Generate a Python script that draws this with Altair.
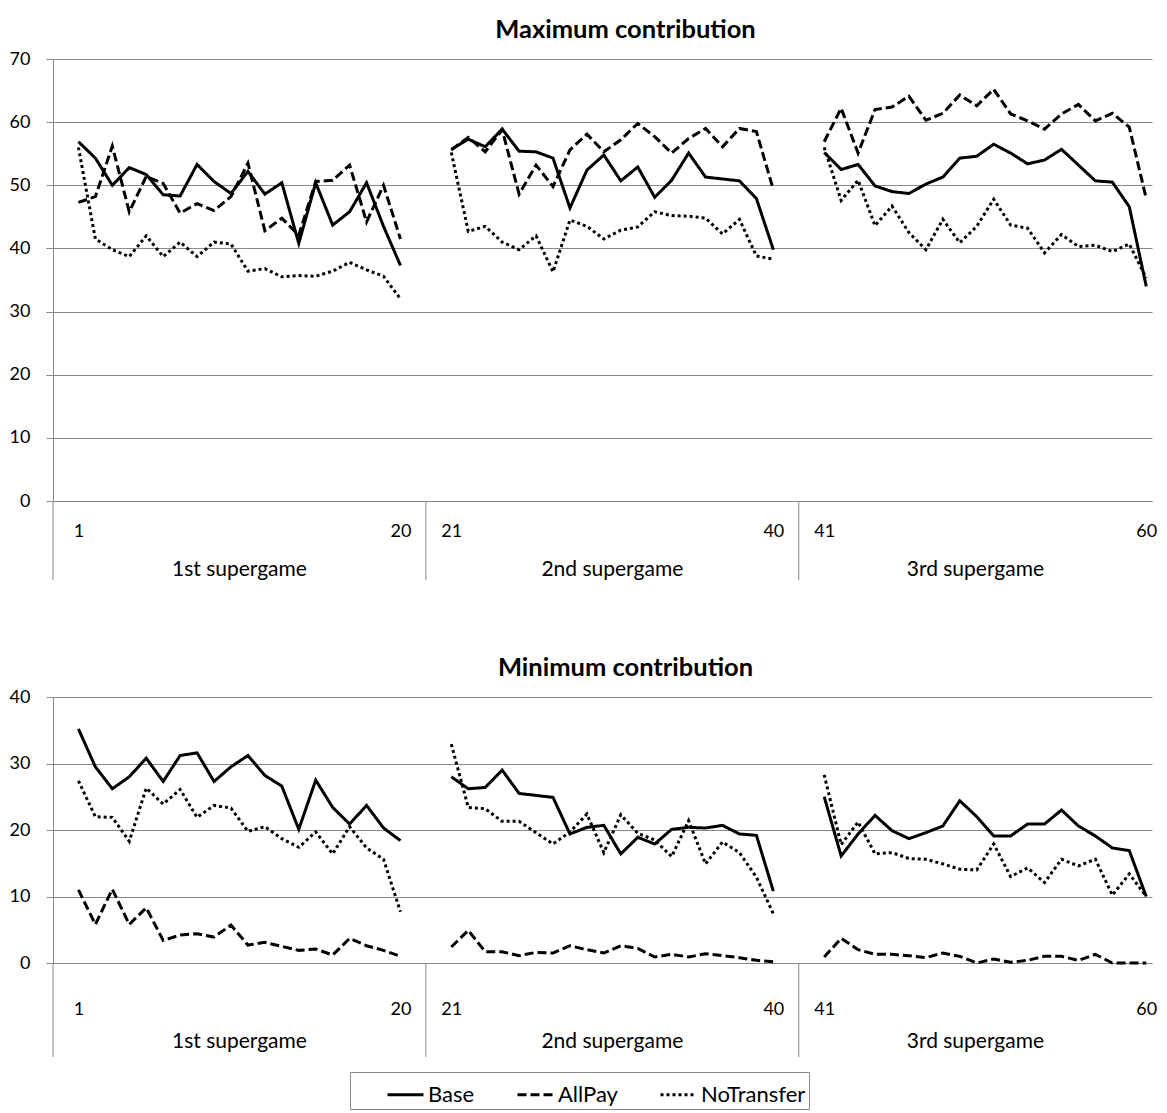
import altair as alt
import pandas as pd

FONT = "Lato"

periods = list(range(1, 61))
supergames = ["1st supergame", "2nd supergame", "3rd supergame"]
series = ["Base", "AllPay", "NoTransfer"]
tick_periods = [1, 20, 21, 40, 41, 60]

max_base = [56.9, 54.3, 50.0, 52.8, 51.7, 48.5, 48.3, 53.3, 50.6, 48.7, 52.2, 48.6, 50.4, 40.8, 50.4, 43.7, 45.8, 50.4, 43.5, 37.3,
            55.7, 57.3, 56.1, 58.9, 55.4, 55.3, 54.3, 46.4, 52.4, 54.8, 50.7, 52.9, 48.1, 50.8, 55.1, 51.3, 51.0, 50.7, 47.9, 39.8,
            55.2, 52.5, 53.3, 49.9, 49.0, 48.7, 50.2, 51.3, 54.3, 54.6, 56.5, 55.1, 53.4, 54.0, 55.7, 53.2, 50.7, 50.5, 46.6, 34.0]
max_allpay = [47.3, 48.2, 56.2, 45.8, 51.4, 50.3, 45.6, 47.1, 46.0, 48.2, 53.5, 42.8, 44.8, 42.1, 50.6, 50.8, 53.2, 44.2, 50.0, 41.5,
              55.6, 57.6, 55.3, 58.8, 48.6, 53.2, 49.8, 55.6, 58.1, 55.3, 57.2, 59.8, 57.7, 55.1, 57.4, 59.0, 56.1, 59.0, 58.5, 49.3,
              56.9, 62.2, 55.1, 62.0, 62.4, 64.1, 60.3, 61.4, 64.3, 62.6, 65.2, 61.3, 60.2, 58.9, 61.3, 62.8, 60.2, 61.4, 59.2, 47.9]
max_notransfer = [56.0, 41.5, 39.8, 38.7, 42.0, 38.7, 41.0, 38.7, 41.0, 40.7, 36.4, 36.8, 35.5, 35.7, 35.6, 36.4, 37.8, 36.6, 35.6, 32.0,
                  55.2, 42.7, 43.5, 41.0, 39.8, 42.0, 36.3, 44.5, 43.5, 41.5, 42.9, 43.4, 45.8, 45.2, 45.1, 44.8, 42.3, 44.6, 38.8, 38.3,
                  56.0, 47.6, 50.8, 43.6, 46.7, 42.5, 39.8, 44.6, 40.9, 43.5, 47.8, 43.7, 43.2, 39.3, 42.2, 40.3, 40.5, 39.5, 40.7, 35.3]

min_base = [35.2, 29.5, 26.2, 28.0, 30.8, 27.3, 31.2, 31.6, 27.3, 29.5, 31.2, 28.2, 26.6, 20.1, 27.5, 23.4, 20.9, 23.7, 20.3, 18.4,
            28.0, 26.2, 26.4, 29.0, 25.5, 25.2, 24.9, 19.4, 20.4, 20.7, 16.4, 18.9, 17.9, 20.1, 20.4, 20.3, 20.7, 19.4, 19.2, 10.8,
            25.0, 16.1, 19.4, 22.2, 19.9, 18.7, 19.6, 20.6, 24.4, 22.0, 19.1, 19.1, 20.9, 20.9, 23.0, 20.6, 19.1, 17.3, 16.9, 10.0]
min_allpay = [11.0, 5.8, 11.1, 5.8, 8.3, 3.4, 4.2, 4.4, 3.9, 5.7, 2.7, 3.1, 2.5, 1.9, 2.1, 1.2, 3.7, 2.6, 1.9, 1.0,
              2.4, 4.9, 1.7, 1.7, 1.1, 1.6, 1.5, 2.6, 2.0, 1.5, 2.6, 2.2, 0.9, 1.3, 0.9, 1.4, 1.1, 0.8, 0.4, 0.2,
              0.9, 3.7, 2.0, 1.3, 1.3, 1.1, 0.8, 1.5, 1.0, 0.0, 0.6, 0.1, 0.4, 1.0, 1.0, 0.4, 1.3, 0.0, 0.0, 0.0]
min_notransfer = [27.4, 22.0, 21.9, 18.3, 26.3, 23.9, 26.1, 21.9, 23.7, 23.3, 19.8, 20.5, 18.7, 17.4, 19.7, 16.4, 20.5, 17.3, 15.6, 7.7,
                  32.9, 23.4, 23.2, 21.3, 21.3, 19.6, 17.9, 19.7, 22.4, 16.6, 22.3, 19.5, 18.5, 16.0, 21.4, 14.9, 18.2, 16.6, 12.9, 7.4,
                  28.3, 17.8, 21.2, 16.4, 16.6, 15.7, 15.6, 14.9, 14.1, 14.0, 17.9, 13.0, 14.3, 12.1, 15.6, 14.6, 15.6, 10.2, 13.4, 10.0]

GRAY = "#8a8a8a"
SLOTS = 22          # 20 periods plus one empty slot each side per supergame
X_END = 64.34       # visible end of the category axis (last slot is cut by the page edge)
PLOT_W = 1099


def slot_of(p):
    g = (p - 1) // 20
    return g * SLOTS + (p - 1) % 20 + 1


tick_slots = [slot_of(p) for p in tick_periods]
label_expr = "".join(f"datum.value == {s} ? '{p}' : " for s, p in zip(tick_slots, tick_periods)) + "''"

xscale = alt.Scale(domain=[-0.5, X_END], nice=False, zero=False)

bounds = [g * SLOTS - 0.5 for g in range(len(supergames))]
centers = [(b + min(b + SLOTS, X_END)) / 2 for b in bounds]


def panel(b, a, n, ymax, height, title, lab_pad, grp_off, div_len):
    rows = []
    for name, vals in zip(series, [b, a, n]):
        for i, v in enumerate(vals):
            p = periods[i]
            rows.append({"period": p, "slot": slot_of(p), "supergame": supergames[(p - 1) // 20],
                         "series": name, "value": v})
    df = pd.DataFrame(rows)
    div_df = pd.DataFrame({"b": bounds})
    grp_df = pd.DataFrame({"c": centers, "supergame": supergames})

    lines = alt.Chart(df).mark_line(color="black", strokeWidth=3).encode(
        x=alt.X("slot:Q", scale=xscale,
                axis=alt.Axis(values=tick_slots, labelExpr=label_expr, ticks=False, grid=False,
                              domainColor=GRAY, labelPadding=lab_pad, labelFontSize=18,
                              labelFont=FONT, labelColor="black", labelFlush=False,
                              labelOverlap=False, title=None)),
        y=alt.Y("value:Q", scale=alt.Scale(domain=[0, ymax], nice=False, zero=True),
                axis=alt.Axis(values=list(range(0, ymax + 1, 10)), grid=True, gridColor=GRAY,
                              domainColor=GRAY, tickColor=GRAY, tickSize=7, labelPadding=16,
                              labelFontSize=18, labelFont=FONT, labelColor="black", title=None)),
        strokeDash=alt.StrokeDash("series:N", scale=alt.Scale(domain=series, range=[[1, 0], [9, 4], [3, 3]]),
                                  legend=alt.Legend(title=None)),
        detail="supergame:N",
    )
    rules = alt.Chart(div_df).mark_rule(color=GRAY, strokeWidth=1).encode(
        x=alt.X("b:Q", scale=xscale), y=alt.value(height), y2=alt.value(height + div_len))
    texts = alt.Chart(grp_df).mark_text(fontSize=21, font=FONT, baseline="middle", color="black").encode(
        x=alt.X("c:Q", scale=xscale), y=alt.value(height + grp_off), text="supergame:N")
    return alt.layer(rules, lines, texts).properties(
        width=PLOT_W, height=height,
        title=alt.TitleParams(title, fontSize=25.5, fontWeight="bold", font=FONT, anchor="middle",
                              offset=7, dx=23))


top = panel(max_base, max_allpay, max_notransfer, 70, 442, "Maximum contribution", 21, 69, 79)
bottom = panel(min_base, min_allpay, min_notransfer, 40, 266, "Minimum contribution", 37, 79, 94)

chart = alt.vconcat(top, bottom, spacing=74).properties(
    padding={"left": 1, "top": 9, "right": 0, "bottom": 0}
).configure_view(strokeWidth=0).configure_legend(
    orient="none", legendX=297, legendY=1013, direction="horizontal",
    strokeColor=GRAY, padding=3, symbolType="stroke", symbolSize=1296, symbolOffset=33,
    symbolStrokeWidth=3, symbolStrokeColor="black", labelFontSize=22, labelFont=FONT,
    labelColor="black", columnPadding=8, labelOffset=3
)

chart.save("out.html", embed_options={"renderer": "svg", "actions": False})
